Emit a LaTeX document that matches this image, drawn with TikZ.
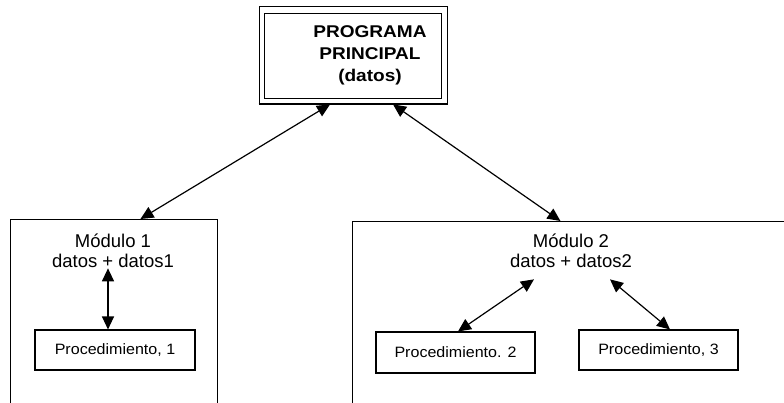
\documentclass[tikz,border=0pt]{standalone}
\usepackage{fontspec}
\setmainfont{Liberation Sans}
\newfontfamily\titlefont[FakeStretch=1.12]{Liberation Sans}
\newfontfamily\procfont[FakeStretch=1.07]{Liberation Sans}
\usetikzlibrary{arrows.meta}

\begin{document}
\begin{tikzpicture}[x=1pt,y=-1pt,
  box/.style={draw,line width=1.1pt,inner sep=0pt},
  frame/.style={draw,line width=0.9pt,inner sep=0pt},
  link/.style={line width=1.2pt,
    {Triangle[length=13pt,width=12pt]}-{Triangle[length=13pt,width=12pt]}},
  modtext/.style={align=center,font=\fontsize{18.5}{20.5}\selectfont,inner sep=2pt},
  proctext/.style={font=\procfont\fontsize{15}{17}\selectfont}]
\useasboundingbox (0,0) rectangle (784,403);
\clip (0,0) rectangle (784,403);

% main program: outer frame, inner border and heavier bottom edge
\node[box, line width=0.8pt, minimum width=188pt, minimum height=98pt] (prog) at (353,55) {};
\draw[line width=1pt] ([shift={(6pt,-8pt)}]prog.north west) rectangle ([shift={(-6pt,6pt)}]prog.south east);
\draw[line width=2pt] (prog.south west) -- (prog.south east);
\node[align=center, font=\titlefont\bfseries\fontsize{17}{22}\selectfont] (ptext) at (370,55)
  {PROGRAMA\\PRINCIPAL\\(datos)};

% module frames (open towards the bottom)
\node[frame, minimum width=207pt, minimum height=220pt, anchor=north west] (mod1) at (10,219) {};
\node[frame, minimum width=440pt, minimum height=220pt, anchor=north west] (mod2) at (352,221) {};
\node[modtext] (m1text) at (113,251) {Módulo 1\\datos + datos1};
\node[modtext] (m2text) at (571,251) {Módulo 2\\datos + datos2};

% procedures
\node[box, proctext, minimum width=160pt, minimum height=40pt] (p1) at (115,350) {Procedimiento, 1};
\node[box, proctext, minimum width=159pt, minimum height=41pt] (p2) at (455.5,352.5) {Procedimiento. 2};
\node[box, proctext, minimum width=159pt, minimum height=40pt] (p3) at (658.5,350) {Procedimiento, 3};

% data exchange
\draw[link] ([xshift=-23pt]prog.south) -- ([xshift=26.5pt]mod1.north);
\draw[link] ([xshift=40pt]prog.south) -- ([xshift=-12pt]mod2.north);
\draw[link] ([shift={(-5pt,2pt)}]m1text.south) -- ([xshift=-7pt]p1.north);
\draw[link] ([shift={(-37pt,-9pt)}]m2text.south) -- ([xshift=2.5pt]p2.north);
\draw[link] ([shift={(39pt,-9pt)}]m2text.south) -- ([xshift=11.5pt]p3.north);
\end{tikzpicture}
\end{document}
